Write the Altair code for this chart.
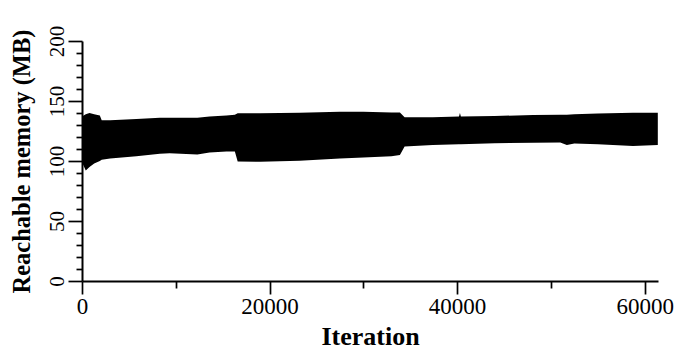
import altair as alt
import pandas as pd

# Envelope of the (densely oscillating) reachable-memory trace
iterations = [0, 400, 800, 1300, 1900, 2100, 3000, 5800, 8300, 9350, 12300, 13600,
              15400, 16300, 16600, 19000, 23200, 27500, 30000, 33000, 33900, 34400,
              37400, 40200, 40300, 40400, 44000, 48100, 51000, 51700, 52500, 55000,
              58750, 61400]
lower_mb = [99, 92, 95, 98, 100, 101, 102, 104, 106, 106.4, 105.5, 107,
            108, 108, 99.5, 99.4, 100.3, 102, 103, 104, 105, 112,
            113.3, 114, 114, 114, 114.8, 115.3, 115.5, 113.3, 114.5, 114,
            112.5, 113.3]
upper_mb = [137, 139, 140, 139, 138, 134, 134, 135, 136, 136, 136, 137,
            138, 138.5, 139.7, 139.7, 140.3, 141, 141, 140.5, 140.5, 136.5,
            136.4, 137, 140, 137, 137.5, 138.3, 138.5, 138.5, 139, 139.5,
            140.3, 140.3]

x_ticks = [0, 10000, 20000, 30000, 40000, 50000, 60000]
y_ticks = list(range(0, 201, 10))

df = pd.DataFrame({"iter": iterations, "lower": lower_mb, "upper": upper_mb})

FONT = "Liberation Serif"

chart = alt.Chart(df).mark_area(color="black", interpolate="linear").encode(
    x=alt.X(
        "iter:Q",
        scale=alt.Scale(domain=[0, 61420], nice=False, zero=False),
        axis=alt.Axis(
            values=x_ticks,
            labelExpr="datum.value % 20000 === 0 ? datum.label : ''",
            format="d",
            tickSize={"condition": {"test": "datum.value % 20000 === 0", "value": 13}, "value": 7},
            title="Iteration",
            labelFontSize=23,
            titleFontSize=26,
            labelPadding=1,
            titlePadding=5,
        ),
    ),
    y=alt.Y(
        "upper:Q",
        scale=alt.Scale(domain=[0, 200], nice=False),
        axis=alt.Axis(
            values=y_ticks,
            labelExpr="datum.value % 50 === 0 ? datum.label : ''",
            tickSize={"condition": {"test": "datum.value % 50 === 0", "value": 14}, "value": 6},
            title="Reachable memory (MB)",
            labelAngle=270,
            labelAlign="center",
            labelBaseline="bottom",
            labelFontSize=21,
            titleFontSize=24.5,
            labelPadding=1,
            titlePadding=12,
        ),
    ),
    y2="lower:Q",
).properties(
    width=576,
    height=240,
    autosize=alt.AutoSizeParams(type="none"),
    padding={"left": 82, "top": 41, "right": 35, "bottom": 79},
).configure_view(
    stroke=None
).configure_axis(
    domainColor="black",
    domainWidth=2,
    tickColor="black",
    tickWidth=1.7,
    labelColor="black",
    titleColor="black",
    labelFont=FONT,
    titleFont=FONT,
    titleFontWeight="bold",
    grid=False,
    labelOverlap=False,
    labelFlush=False,
)

chart.save("out.html", embed_options={"renderer": "svg", "actions": False})
